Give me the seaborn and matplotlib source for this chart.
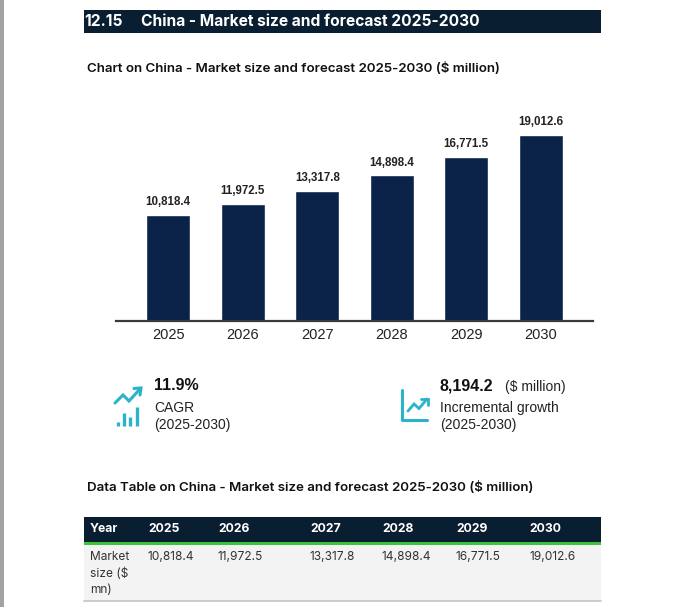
import matplotlib
matplotlib.use('Agg')
import matplotlib.pyplot as plt
from matplotlib import font_manager
import seaborn as sns
import pandas as pd

# data
years = ['2025', '2026', '2027', '2028', '2029', '2030']
market_size = [10818.4, 11972.5, 13317.8, 14898.4, 16771.5, 19012.6]
cagr = '11.9%'
incremental = '8,194.2'
header_no = '12.15'
header_title = 'China - Market size and forecast 2025-2030'
chart_title = 'Chart on China - Market size and forecast 2025-2030 ($ million)'
table_title = 'Data Table on China - Market size and forecast 2025-2030 ($ million)'
row_label = ['Market', 'size ($', 'mn)']

sns.set_theme(style='white')
names = {f.name for f in font_manager.fontManager.ttflist}
narrow = 'Liberation Sans Narrow' if 'Liberation Sans Narrow' in names else 'Liberation Sans'
plt.rcParams['font.family'] = ['Inter', 'DejaVu Sans']

NAVY = '#0a1e32'
BAR = '#0b2249'
TEAL = '#2ab3cb'

W, H = 677, 607
fig = plt.figure(figsize=(W / 100, H / 100), dpi=100)
fig.patch.set_facecolor('white')

# page layer in pixel coordinates
bg = fig.add_axes([0, 0, 1, 1])
bg.set_xlim(0, W)
bg.set_ylim(H, 0)
bg.axis('off')

bg.add_patch(plt.Rectangle((0, 0), 4, H, color='#a3a3a3', lw=0))
bg.add_patch(plt.Rectangle((84, 10), 517, 23, color=NAVY, lw=0))
bg.text(84, 21.5, header_no, color='white', fontsize=11.2, fontweight='bold', va='center')
bg.text(141, 21.5, header_title, color='white', fontsize=11.2, fontweight='bold', va='center')
bg.text(87, 68, chart_title, color='#111111', fontsize=9.6, fontweight='semibold', va='center')

# bar chart
df = pd.DataFrame({'year': years, 'value': market_size})
ax = fig.add_axes([116 / W, 1 - 321 / H, (593 - 116) / W, (321 - 110) / H])
sns.barplot(data=df, x='year', y='value', color=BAR, width=0.59, saturation=1, ax=ax)
ax.set_xlim(-0.7, 5.7)
ax.set_ylim(0, 21600)
ax.set_xlabel('')
ax.set_ylabel('')
ax.set_yticks([])
for s in ['top', 'left', 'right']:
    ax.spines[s].set_visible(False)
ax.spines['bottom'].set_color('#3a3a3a')
ax.spines['bottom'].set_linewidth(1.6)
ax.tick_params(axis='x', length=0, pad=5)
for lab in ax.get_xticklabels():
    lab.set_fontfamily(narrow)
    lab.set_fontsize(10.5)
    lab.set_color('#222222')
for c in ax.containers:
    ax.bar_label(c, labels=[f'{v:,.1f}' for v in market_size], padding=5,
                 fontsize=8.3, fontweight='bold', family=narrow, color='#222222')
ax.patch.set_alpha(0)

# CAGR icon
bars_x = [117.5, 123.5, 130, 136.5]
bars_top = [421.5, 413, 417, 406.5]
for bx, bt in zip(bars_x, bars_top):
    bg.plot([bx, bx], [bt, 426], color=TEAL, lw=2.4, solid_capstyle='butt')
bg.plot([115, 123, 129, 140], [403, 395, 401, 389], color=TEAL, lw=2.2, solid_joinstyle='miter')
bg.plot([134, 141, 140], [388.5, 388, 395], color=TEAL, lw=2.2, solid_joinstyle='miter')

bg.text(154, 386, cagr, fontsize=11.5, fontweight='bold', family=narrow, color='#111111', va='center')
bg.text(154, 408, 'CAGR', fontsize=10, family=narrow, color='#222222', va='center')
bg.text(154, 425, '(2025-2030)', fontsize=10, family=narrow, color='#222222', va='center')

# incremental growth icon
bg.plot([402, 402, 427], [390, 420, 420], color=TEAL, lw=2.2, solid_joinstyle='round')
bg.plot([408, 414, 419, 427], [411, 404, 408.5, 399], color=TEAL, lw=2.0, solid_joinstyle='miter')
bg.plot([421, 427.5, 427.5], [398.5, 398.5, 405], color=TEAL, lw=2.0, solid_joinstyle='miter')

bg.text(440, 386, incremental, fontsize=11.5, fontweight='bold', family=narrow, color='#111111', va='center')
bg.text(505, 387, '($ million)', fontsize=10, family=narrow, color='#222222', va='center')
bg.text(440, 408, 'Incremental growth', fontsize=10, family=narrow, color='#222222', va='center')
bg.text(440, 425, '(2025-2030)', fontsize=10, family=narrow, color='#222222', va='center')

# data table
bg.text(87, 487.5, table_title, color='#111111', fontsize=9.6, fontweight='semibold', va='center')
bg.add_patch(plt.Rectangle((84, 517), 517, 25, color=NAVY, lw=0))
bg.add_patch(plt.Rectangle((84, 542), 517, 3, color='#3cc23c', lw=0))
bg.add_patch(plt.Rectangle((84, 545), 517, 56, color='#f3f3f3', lw=0))
bg.plot([84, 601], [601, 601], color='#c4c4c4', lw=1.2)

col_x = [148, 218, 310, 382, 456, 529]
bg.text(90, 529.5, 'Year', color='white', fontsize=8.8, fontweight='bold', va='center')
for x, yr, v in zip(col_x, years, market_size):
    bg.text(x, 529.5, yr, color='white', fontsize=8.8, fontweight='bold', va='center')
    bg.text(x, 557, f'{v:,.1f}', color='#333333', fontsize=8.6, va='center')
for i, t in enumerate(row_label):
    bg.text(90, 557 + i * 16.5, t, color='#333333', fontsize=8.6, va='center')

fig.savefig('out.png', dpi=100)
